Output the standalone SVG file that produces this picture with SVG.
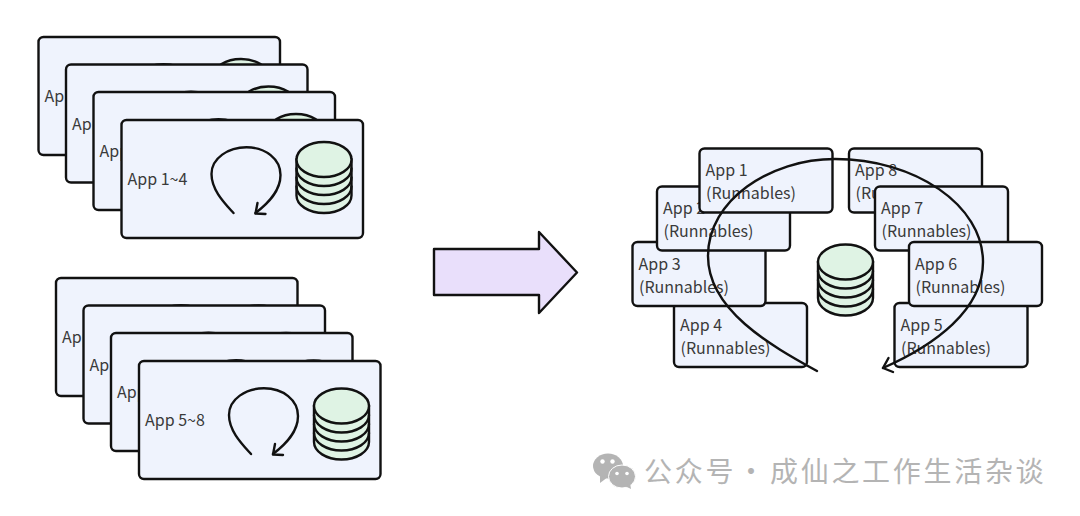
<svg xmlns="http://www.w3.org/2000/svg" width="1080" height="516" viewBox="0 0 1080 516">
  <style>
    .card { fill: #eff3fd; stroke: #111; stroke-width: 2.4; }
    .line { fill: none; stroke: #111; stroke-width: 2.4; stroke-linecap: round; stroke-linejoin: round; }
    .db { fill: #dff3e4; stroke: #111; stroke-width: 2.4; }
    .label { font-family: "Noto Sans CJK SC", "Noto Sans", sans-serif; font-size: 16px; fill: #3a3a3a; }
    .mark { font-family: "Noto Sans CJK SC", "Noto Sans", sans-serif; font-size: 28px; fill: #b4b4b4; letter-spacing: 2.7px; }
  </style>
  <defs>
    <!-- Stacked storage cylinder, origin at the centre of the top ellipse -->
    <g id="cyl">
      <path class="db" d="M-27.5 0V36A27.5 17.5 0 0 0 27.5 36V0Z"/>
      <path class="line" d="M-27.5 27A27.5 17.5 0 0 0 27.5 27M-27.5 18A27.5 17.5 0 0 0 27.5 18M-27.5 9A27.5 17.5 0 0 0 27.5 9"/>
      <ellipse class="db" cx="0" cy="0" rx="27.5" ry="17.5"/>
    </g>
    <!-- Small circular arrow, origin at the card corner -->
    <g id="loop">
      <path class="line" d="M112 93C103 83 90 70 90 54C90 38 107 27.300 125 27.300C144 27.300 159 39 159 55C159 71 147 83 134 93"/>
      <path class="line" d="M136 83L134 93.500L144 94"/>
    </g>
  </defs>

  <g id="stack-a">
    <g id="a1" transform="translate(38.500 37)"><rect class="card" width="241.500" height="118" rx="5"/><text class="label" x="6" y="65">App 1~4</text><use href="#loop"/><use href="#cyl" x="202.500" y="39.500"/></g>
    <g id="a2" transform="translate(66 64.500)"><rect class="card" width="241.500" height="118" rx="5"/><text class="label" x="6" y="65">App 1~4</text><use href="#loop"/><use href="#cyl" x="202.500" y="39.500"/></g>
    <g id="a3" transform="translate(93.500 92)"><rect class="card" width="241.500" height="118" rx="5"/><text class="label" x="6" y="65">App 1~4</text><use href="#loop"/><use href="#cyl" x="202.500" y="39.500"/></g>
    <g id="a4" transform="translate(121.500 120)"><rect class="card" width="241.500" height="118" rx="5"/><text class="label" x="6" y="65">App 1~4</text><use href="#loop"/><use href="#cyl" x="202.500" y="39.500"/></g>
  </g>

  <g id="stack-b">
    <g id="b1" transform="translate(56 278)"><rect class="card" width="241.500" height="118" rx="5"/><text class="label" x="6" y="65">App 5~8</text><use href="#loop"/><use href="#cyl" x="202.500" y="45"/></g>
    <g id="b2" transform="translate(83.500 305.500)"><rect class="card" width="241.500" height="118" rx="5"/><text class="label" x="6" y="65">App 5~8</text><use href="#loop"/><use href="#cyl" x="202.500" y="45"/></g>
    <g id="b3" transform="translate(111 333)"><rect class="card" width="241.500" height="118" rx="5"/><text class="label" x="6" y="65">App 5~8</text><use href="#loop"/><use href="#cyl" x="202.500" y="45"/></g>
    <g id="b4" transform="translate(139 361)"><rect class="card" width="241.500" height="118" rx="5"/><text class="label" x="6" y="65">App 5~8</text><use href="#loop"/><use href="#cyl" x="202.500" y="45"/></g>
  </g>

  <g id="transition">
    <path d="M434 249H539V232L577 272.500L539 313V295H434Z" fill="#e9dffb" stroke="#111" stroke-width="2.400" stroke-linejoin="round"/>
  </g>

  <g id="store"><use href="#cyl" x="845.500" y="262"/></g>

  <g id="app4" transform="translate(674 303)"><rect class="card" width="133" height="64" rx="5"/><text class="label" x="6" y="27.500">App 4</text><text class="label" x="6.500" y="50.500">(Runnables)</text></g>
  <g id="app3" transform="translate(632.500 242)"><rect class="card" width="133" height="64" rx="5"/><text class="label" x="6" y="27.500">App 3</text><text class="label" x="6.500" y="50.500">(Runnables)</text></g>
  <g id="app2" transform="translate(657 186.500)"><rect class="card" width="133" height="64" rx="5"/><text class="label" x="6" y="27.500">App 2</text><text class="label" x="6.500" y="50.500">(Runnables)</text></g>
  <g id="app1" transform="translate(699.500 148.500)"><rect class="card" width="133" height="64" rx="5"/><text class="label" x="6" y="27.500">App 1</text><text class="label" x="6.500" y="50.500">(Runnables)</text></g>
  <g id="app8" transform="translate(849 148.500)"><rect class="card" width="133" height="64" rx="5"/><text class="label" x="6" y="27.500">App 8</text><text class="label" x="6.500" y="50.500">(Runnables)</text></g>
  <g id="app7" transform="translate(875 186.500)"><rect class="card" width="133" height="64" rx="5"/><text class="label" x="6" y="27.500">App 7</text><text class="label" x="6.500" y="50.500">(Runnables)</text></g>
  <g id="app5" transform="translate(894.500 303)"><rect class="card" width="133" height="64" rx="5"/><text class="label" x="6" y="27.500">App 5</text><text class="label" x="6.500" y="50.500">(Runnables)</text></g>
  <g id="app6" transform="translate(909 242)"><rect class="card" width="133" height="64" rx="5"/><text class="label" x="6" y="27.500">App 6</text><text class="label" x="6.500" y="50.500">(Runnables)</text></g>

  <g id="connectors">
    <path class="line" d="M817 371C770 345 708 310 708 256C708 200 770 159 835 159C915 159 983 205 983 262C983 310 935 345 883 368"/>
    <path class="line" d="M888.500 358L883 368L893 372"/>
  </g>

  <g id="watermark">
    <ellipse cx="608" cy="466" rx="15" ry="12.500" fill="#b4b4b4"/>
    <path d="M600 476L600 483L608 477Z" fill="#b4b4b4"/>
    <ellipse cx="622" cy="476.500" rx="13.500" ry="11.500" fill="#b4b4b4" stroke="#fff" stroke-width="1"/>
    <path d="M625 486L631 489L630 483Z" fill="#b4b4b4"/>
    <circle cx="602.500" cy="461.500" r="2.200" fill="#fff"/>
    <circle cx="612.500" cy="461.500" r="2.200" fill="#fff"/>
    <circle cx="617" cy="473.500" r="1.800" fill="#fff"/>
    <circle cx="627" cy="473.500" r="1.800" fill="#fff"/>
    <text class="mark" y="482"><tspan x="644">公众号</tspan><tspan x="737">·</tspan><tspan x="770">成仙之工作生活杂谈</tspan></text>
  </g>
</svg>
